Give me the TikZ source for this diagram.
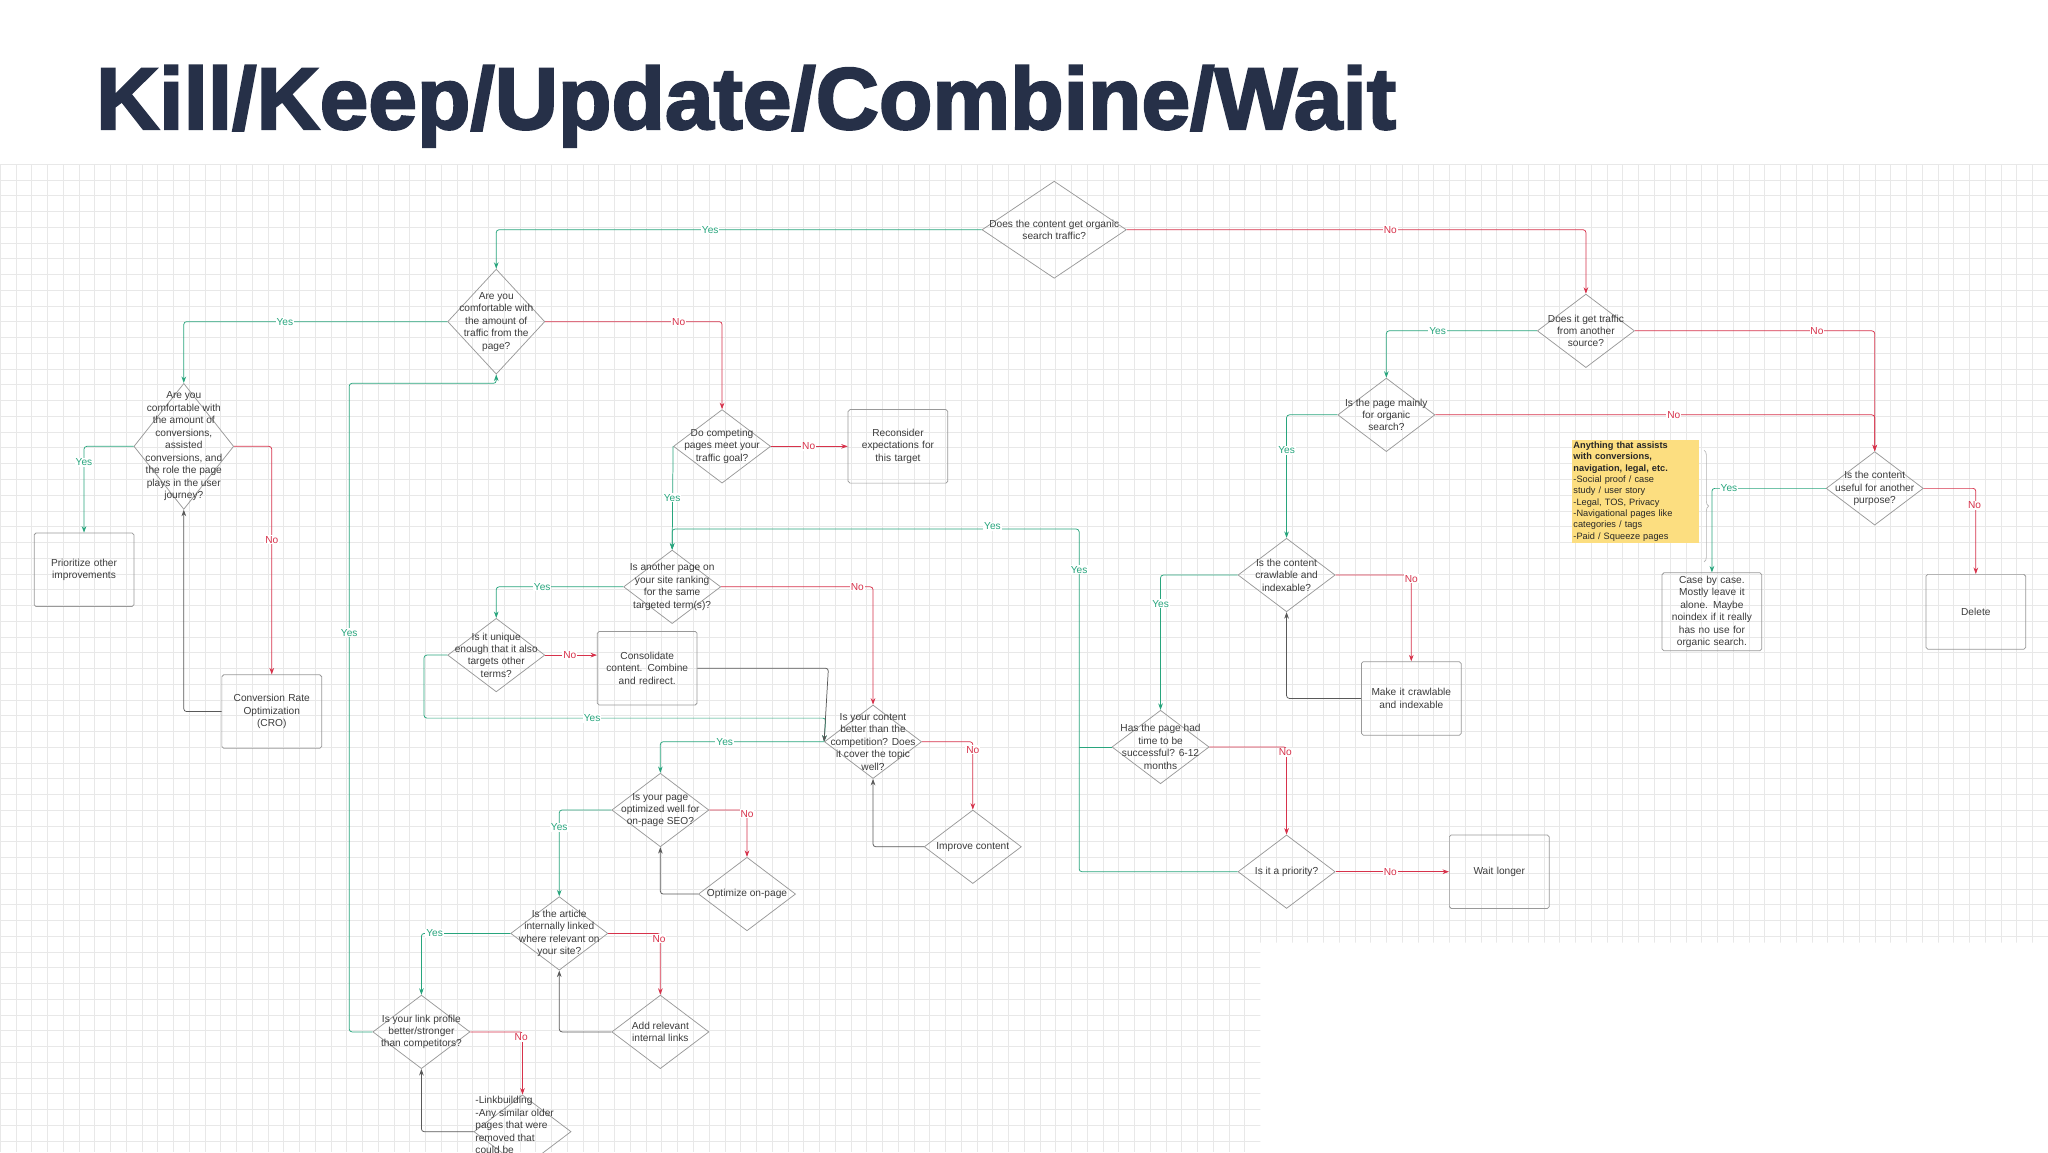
\documentclass[tikz,border=0pt]{standalone}
\usepackage{fontspec}
\setmainfont{Liberation Sans}
\newfontfamily\ttlfont[FakeBold=2.5]{Liberation Sans Bold}
\usetikzlibrary{shapes.geometric,arrows.meta,decorations.pathreplacing}
\definecolor{gy}{RGB}{40,165,125}
\definecolor{rn}{RGB}{215,50,75}
\definecolor{tx}{RGB}{60,60,60}
\definecolor{ttl}{RGB}{38,48,72}
\definecolor{note}{RGB}{252,222,128}
\tikzset{
 dia/.style={diamond,draw=gray!80,line width=0.8pt,inner sep=0pt,minimum width=3.7cm,minimum height=2.8cm},
 dtx/.style={text=tx,align=center,font=\fontsize{11}{13.5}\selectfont,inner sep=0pt},
 box/.style={draw=gray!80,line width=0.8pt,rounded corners=2pt,minimum width=3.8cm,minimum height=2.8cm,text=tx,align=center,text width=3.5cm,font=\fontsize{11}{13.5}\selectfont},
 yesl/.style={draw=gy,line width=0.8pt,-{Stealth[length=7pt,width=5pt]},rounded corners=3pt},
 nol/.style={draw=rn,line width=0.8pt,-{Stealth[length=7pt,width=5pt]},rounded corners=3pt},
 bkl/.style={draw=gray!70!black,line width=0.8pt,-{Stealth[length=7pt,width=5pt]},rounded corners=3pt},
 ly/.style={fill=white,inner sep=1pt,text=gy,font=\fontsize{11}{12}\selectfont},
 ln/.style={fill=white,inner sep=1pt,text=rn,font=\fontsize{11}{12}\selectfont},
}
\begin{document}
\begin{tikzpicture}[x=0.05cm,y=-0.05cm]
\useasboundingbox (0,0) rectangle (1560,877.5);
\fill[white] (0,0) rectangle (1560,877.5);
% grid
\begin{scope}
\clip (0,125) -- (1560,125) -- (1560,718) -- (960,718) -- (960,877.5) -- (0,877.5) -- cycle;
\foreach \i in {0,...,130} {\draw[gray!18,line width=0.4pt] (\i*12,125) -- (\i*12,877.5);}
\foreach \j in {0,...,63} {\draw[gray!18,line width=0.4pt] (0,125+\j*12) -- (1560,125+\j*12);}
\end{scope}
\node[anchor=west,inner sep=0pt,text=ttl] (title) at (73,81) {\resizebox{49.5cm}{!}{\ttlfont Kill/Keep/Update/Combine/Wait}};
% diamonds
\node[dia,minimum width=5.5cm,minimum height=3.7cm] (D1) at (803,175) {};
\node[dtx] (T1) at (D1) {Does the content get organic\\search traffic?};
\node[dia,minimum height=4cm] (D2) at (378,245) {};
\node[dtx] (T2) at (D2) {Are you\\comfortable with\\the amount of\\traffic from the\\page?};
\node[dia] (D3) at (1208,252) {};
\node[dtx] (T3) at (D3) {Does it get traffic\\from another\\source?};
\node[dia,minimum width=3.8cm,minimum height=4.8cm] (D4) at (140,340) {};
\node[dtx] (T4) at (D4) {Are you\\comfortable with\\the amount of\\conversions,\\assisted\\conversions, and\\the role the page\\plays in the user\\journey?};
\node[dia] (D5) at (550,340) {};
\node[dtx] (T5) at (D5) {Do competing\\pages meet your\\traffic goal?};
\node[dia] (D6) at (1056,316) {};
\node[dtx] (T6) at (D6) {Is the page mainly\\for organic\\search?};
\node[dia] (D7) at (1428,372) {};
\node[dtx] (T7) at (D7) {Is the content\\useful for another\\purpose?};
\node[dia] (D8) at (512,447) {};
\node[dtx] (T8) at (D8) {Is another page on\\your site ranking\\for the same\\targeted term(s)?};
\node[dia] (D9) at (980,438) {};
\node[dtx] (T9) at (D9) {Is the content\\crawlable and\\indexable?};
\node[dia] (D10) at (378,499) {};
\node[dtx] (T10) at (D10) {Is it unique\\enough that it also\\targets other\\terms?};
\node[dia] (D11) at (665,565) {};
\node[dtx] (T11) at (D11) {Is your content\\better than the\\competition? Does\\it cover the topic\\well?};
\node[dia] (D12) at (884,569) {};
\node[dtx] (T12) at (D12) {Has the page had\\time to be\\successful? 6-12\\months};
\node[dia] (D13) at (503,617) {};
\node[dtx] (T13) at (D13) {Is your page\\optimized well for\\on-page SEO?};
\node[dia] (D14) at (741,645) {};
\node[dtx] (T14) at (D14) {Improve content};
\node[dia] (D15) at (569,681) {};
\node[dtx] (T15) at (D15) {Optimize on-page};
\node[dia] (D16) at (980,664) {};
\node[dtx] (T16) at (D16) {Is it a priority?};
\node[dia] (D17) at (426,711) {};
\node[dtx] (T17) at (D17) {Is the article\\internally linked\\where relevant on\\your site?};
\node[dia] (D18) at (503,786) {};
\node[dtx] (T18) at (D18) {Add relevant\\internal links};
\node[dia] (D19) at (321,786) {};
\node[dtx] (T19) at (D19) {Is your link profile\\better/stronger\\than competitors?};
\begin{scope}
\clip (0,0) rectangle (1560,877.5);
\node[dia] (D20) at (398,862) {};
\node[dtx,align=left,anchor=north west] (T20) at (362,835) {-Linkbuilding\\-Any similar older\\pages that were\\removed that\\could be};
\end{scope}
% boxes
\node[box] (R1) at (684,340) {Reconsider\\expectations for\\this target};
\node[box] (R2) at (1304,466) {Case by case.\\Mostly leave it\\alone. Maybe\\noindex if it really\\has no use for\\organic search.};
\node[box,minimum height=2.85cm] (R3) at (1505,466) {Delete};
\node[box] (R4) at (64,434) {Prioritize other\\improvements};
\node[box] (R5) at (493,509) {Consolidate\\content. Combine\\and redirect.};
\node[box] (R6) at (207,542) {Conversion Rate\\Optimization\\(CRO)};
\node[box] (R7) at (1075,532) {Make it crawlable\\and indexable};
\node[box] (R8) at (1142,664) {Wait longer};
\node[fill=note,anchor=north west,text width=4.7cm,align=left,inner sep=2pt,font=\fontsize{10}{12.3}\selectfont,text=black!85] (N1) at (1197,335) {\textbf{Anything that assists\\with conversions,\\navigation, legal, etc.}\\-Social proof / case\\study / user story\\-Legal, TOS, Privacy\\-Navigational pages like\\categories / tags\\-Paid / Squeeze pages};
\draw[gray!60,line width=0.7pt,decorate,decoration={brace,amplitude=5pt}] (1298,343) -- (1298,428);
% connectors
\draw[yesl] (D1.west) -| (D2.north); \node[ly] (a1) at (541,175) {Yes};
\draw[nol] (D1.east) -| (D3.north); \node[ln] (a2) at (1059,175) {No};
\draw[yesl] (D2.west) -| (D4.north); \node[ly] (a3) at (217,245) {Yes};
\draw[nol] (D2.east) -| (D5.north); \node[ln] (a4) at (517,245) {No};
\draw[yesl] (D3.west) -| (D6.north); \node[ly] (a5) at (1095,252) {Yes};
\draw[nol] (D3.east) -| (D7.north); \node[ln] (a6) at (1384,252) {No};
\draw[yesl] (D4.west) -| (R4.north); \node[ly] (a7) at (64,352) {Yes};
\draw[nol] (D4.east) -| (R6.north); \node[ln] (a8) at (207,411) {No};
\draw[bkl] (R6.west) -| (D4.south);
\draw[nol] (D5.east) -- (R1.west); \node[ln] (a9) at (616,340) {No};
\draw[yesl] (D5.west) -- (D8.north); \node[ly] (a10) at (512,379) {Yes};
\draw[yesl] (D6.west) -| (D9.north); \node[ly] (a11) at (980,343) {Yes};
\draw[nol] (D6.east) -| (D7.north); \node[ln] (a12) at (1275,316) {No};
\draw[yesl] (D7.west) -| (R2.north); \node[ly] (a13) at (1317,372) {Yes};
\draw[nol] (D7.east) -| (R3.north); \node[ln] (a14) at (1504,385) {No};
\draw[yesl] (D8.west) -| (D10.north); \node[ly] (a15) at (413,447) {Yes};
\draw[nol] (D8.east) -| (D11.north); \node[ln] (a16) at (653,447) {No};
\draw[yesl] (D16.west) -- (822,664) -- (822,403) -- (512,403) -- (D8.north);
\draw[gy,line width=0.8pt] (D12.west) -- (822,569);
\node[ly] (a17) at (756,401) {Yes}; \node[ly] (a18) at (822,434) {Yes};
\draw[yesl] (D9.west) -| (D12.north); \node[ly] (a19) at (884,460) {Yes};
\draw[nol] (D9.east) -| (R7.north); \node[ln] (a20) at (1075,441) {No};
\draw[bkl] (R7.west) -| (D9.south);
\draw[nol] (D12.east) -| (D16.north); \node[ln] (a21) at (979,573) {No};
\draw[nol] (D16.east) -- (R8.west); \node[ln] (a22) at (1059,664) {No};
\draw[nol] (D10.east) -- (D10.east -| R5.west); \node[ln] (a23) at (434,499) {No};
\draw[yesl] (D10.west) -- (323,499) -- (323,547) -- (629,547) -- (D11.west); \node[ly] (a24) at (451,547) {Yes};
\draw[bkl] (R5.east) -- (631,509) -- (D11.west);
\draw[yesl] (D11.west) -| (D13.north); \node[ly] (a25) at (552,565) {Yes};
\draw[nol] (D11.east) -| (D14.north); \node[ln] (a26) at (741,571) {No};
\draw[bkl] (D14.west) -| (D11.south);
\draw[yesl] (D13.west) -| (D17.north); \node[ly] (a27) at (426,630) {Yes};
\draw[nol] (D13.east) -| (D15.north); \node[ln] (a28) at (569,620) {No};
\draw[bkl] (D15.west) -| (D13.south);
\draw[yesl] (D17.west) -| (D19.north); \node[ly] (a29) at (331,711) {Yes};
\draw[nol] (D17.east) -| (D18.north); \node[ln] (a30) at (502,715) {No};
\draw[bkl] (D18.west) -| (D17.south);
\draw[nol] (D19.east) -| (D20.north); \node[ln] (a31) at (397,790) {No};
\draw[bkl] (D20.west) -| (D19.south);
\draw[yesl] (D19.west) -- (266,786) -- (266,292) -- (378,292) -- (D2.south); \node[ly] (a32) at (266,482) {Yes};
\end{tikzpicture}
\end{document}
